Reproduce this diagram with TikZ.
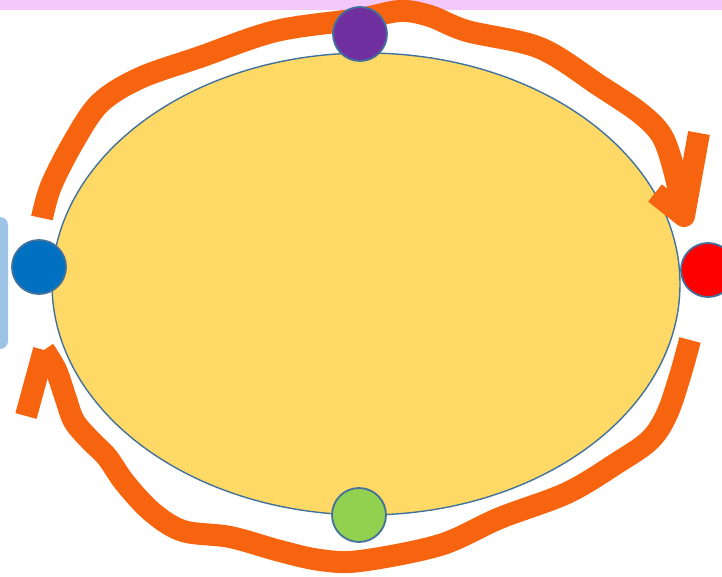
\documentclass[tikz,border=0pt]{standalone}
\usepackage{tikz}
\usetikzlibrary{shapes.geometric}
\definecolor{sunfill}{HTML}{FFD966}
\definecolor{rimblue}{HTML}{41719C}
\definecolor{penorange}{HTML}{F7640F}
\definecolor{dotpurple}{HTML}{7030A0}
\definecolor{dotblue}{HTML}{0070C0}
\definecolor{dotred}{HTML}{FF0000}
\definecolor{dotgreen}{HTML}{92D050}
\definecolor{bandpink}{HTML}{F5C8FB}
\definecolor{tabblue}{HTML}{9DC3E6}

\begin{document}
\begin{tikzpicture}[
    x=1pt, y=-1pt,
    orbit/.style={ellipse, draw=rimblue, line width=1.4pt, fill=sunfill, inner sep=0pt, minimum width=628pt, minimum height=462pt},
    dot/.style={circle, draw=rimblue, line width=1.8pt, inner sep=0pt, minimum size=54pt},
    pen/.style={draw=penorange, line width=22pt, line join=round, line cap=butt}
]
    \useasboundingbox (0,0) rectangle (722,577);
    \clip (0,0) rectangle (722,577);

    % Edges of the slide
    \fill[bandpink] (0,0) rectangle (722,10);
    \fill[tabblue, rounded corners=8pt] (-30,217) rectangle (8,349);

    % Orbit
    \node[orbit] (orbit) at (366,284) {};

    % Hand-drawn arrows
    \coordinate (topstart) at (42,218);
    \coordinate (toptip) at (684,216);
    \coordinate (botstart) at (690,340);
    \coordinate (bottip) at (44,350);
    \draw[pen] plot[smooth, tension=0.55] coordinates {(topstart) (51,186) (74,141) (100,103) (140,78) (200,57) (276,31) (359,19) (400,11) (430,16) (467,31) (540,48) (600,86) (640,113) (662,136) (674,170) (toptip)};
    \draw[pen] (655,193) -- (toptip) -- (699,133);
    \draw[pen] plot[smooth, tension=0.55] coordinates {(botstart) (680,376) (667,414) (650,440) (617,463) (567,493) (500,518) (440,545) (360,561) (320,560) (280,551) (230,537) (183,531) (152,512) (125,483) (107,457) (90,440) (74,421) (65,396) (56,370) (bottip)};
    \draw[pen] (bottip) -- (26,416);

    % Dots
    \node[dot, fill=dotpurple] (north) at (360,34) {};
    \node[dot, fill=dotblue] (west) at (39,267) {};
    \node[dot, fill=dotred] (east) at (708,270) {};
    \node[dot, fill=dotgreen] (south) at (359,515) {};
\end{tikzpicture}
\end{document}
